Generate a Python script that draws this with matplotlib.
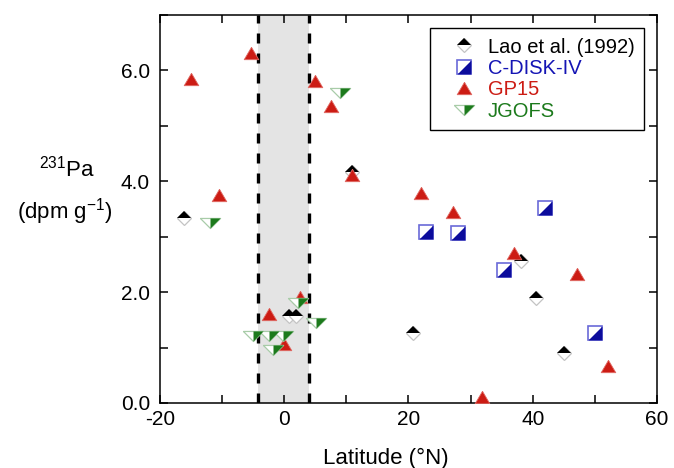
import numpy as np
import matplotlib
matplotlib.use("Agg")
import matplotlib.pyplot as plt
from matplotlib.lines import Line2D

plt.rcParams['font.family'] = ['Liberation Sans', 'DejaVu Sans']
plt.rcParams['mathtext.default'] = 'regular'

# ---- data ----
lao_lat = [-16.1, 0.85, 1.9, 11.0, 20.8, 38.1, 40.5, 45.0]
lao_pa = [3.33, 1.56, 1.56, 4.16, 1.27, 2.57, 1.89, 0.90]

cdisk_lat = [22.8, 27.9, 35.4, 41.9, 50.0]
cdisk_pa = [3.09, 3.06, 2.40, 3.52, 1.27]

gp15_lat = [-15.0, -10.45, -5.4, -2.5, 0.05, 2.5, 5.0, 7.5, 11.0,
            22.0, 27.1, 31.9, 37.0, 47.1, 52.1]
gp15_pa = [5.84, 3.76, 6.32, 1.60, 1.07, 1.92, 5.81, 5.35, 4.12,
           3.78, 3.44, 0.11, 2.71, 2.33, 0.66]

jgofs_lat = [-11.9, -5.0, -2.4, -1.8, -0.1, 2.3, 5.1, 9.0]
jgofs_pa = [3.25, 1.21, 1.21, 0.95, 1.21, 1.80, 1.45, 5.60]

band = (-4.2, 4.0)

# colours
c_blue = '#0c0c9c'
c_blue_edge = '#6a6ad8'
c_red = '#cc1c14'
c_green = '#1c7a1c'
c_green_edge = '#a8cca8'

# custom marker shapes
sq_half = [(-1, -1), (1, -1), (1, 1), (-1, -1)]
tri_up = [(0, 0.85), (-1, -0.85), (1, -0.85), (0, 0.85)]
vtri_full = [(-1, 0.5), (1, 0.5), (0, -0.5), (-1, 0.5)]
vtri_half = [(0, 0.5), (1, 0.5), (0, -0.5), (0, 0.5)]


def series_styles():
    # each series is made of overlaid layers (background, filled half)
    lao = [dict(marker='D', ms=7, mfc='white', mec='#c4c4c4', mew=0.9),
           dict(marker='D', ms=7, fillstyle='top', mfc='black',
                mfcalt='none', mec='none', mew=0)]
    cdisk = [dict(marker='s', ms=10, mfc='white', mec=c_blue_edge, mew=1.2),
             dict(marker=sq_half, ms=10, mfc=c_blue, mec='none', mew=0)]
    gp15 = [dict(marker=tri_up, ms=10.5, mfc=c_red, mec='#e06a64', mew=0.6)]
    jgofs = [dict(marker=vtri_full, ms=14.5, mfc='white', mec=c_green_edge, mew=0.9),
             dict(marker=vtri_half, ms=14.5, mfc=c_green, mec='none', mew=0)]
    return lao, cdisk, gp15, jgofs


fig = plt.figure(figsize=(6.74, 4.68), dpi=100)
ax = fig.add_axes([0.237, 0.139, 0.738, 0.829])

ax.axvspan(band[0], band[1], color='#e4e4e4', lw=0, zorder=0)
for xb in band:
    ax.axvline(xb, color='black', lw=2.4, linestyle=(0, (3, 3)), zorder=1)

lao_s, cdisk_s, gp15_s, jgofs_s = series_styles()
datasets = [
    (lao_lat, lao_pa, lao_s, 'Lao et al. (1992)', 'black'),
    (cdisk_lat, cdisk_pa, cdisk_s, 'C-DISK-IV', '#1414b4'),
    (gp15_lat, gp15_pa, gp15_s, 'GP15', c_red),
    (jgofs_lat, jgofs_pa, jgofs_s, 'JGOFS', c_green),
]

handles, labels, text_colors = [], [], []
z = 3
for lat, pa, styles, label, tc in datasets:
    layer = []
    for st in styles:
        st = dict(st)
        mfcalt = st.pop('mfcalt', None)
        ln, = ax.plot(lat, pa, linestyle='none', zorder=z, **st)
        proxy = Line2D([], [], linestyle='none', **st)
        if mfcalt is not None:
            ln.set_markerfacecoloralt(mfcalt)
            proxy.set_markerfacecoloralt(mfcalt)
        layer.append(proxy)
        z += 0.1
    z += 1
    handles.append(tuple(layer))
    labels.append(label)
    text_colors.append(tc)

ax.set_xlim(-20, 60)
ax.set_ylim(0, 7)
ax.set_xticks(np.arange(-20, 61, 10))
ax.set_xticklabels(['-20', '', '0', '', '20', '', '40', '', '60'])
ax.set_yticks(np.arange(0, 7.1, 1))
ax.set_yticklabels(['0.0', '', '2.0', '', '4.0', '', '6.0', ''])
ax.tick_params(direction='in', length=6, width=1.1, labelsize=15,
               top=True, right=True)
ax.tick_params(axis='y', pad=7)
ax.tick_params(axis='x', pad=5)
for sp in ax.spines.values():
    sp.set_linewidth(1.1)

fig.text(0.573, 0.008, 'Latitude (°N)', fontsize=16, ha='center', va='baseline')
fig.text(0.0994, 0.622, '$^{231}$Pa', fontsize=16, ha='center', va='baseline')
fig.text(0.0964, 0.534, '(dpm g$^{-1}$)', fontsize=16, ha='center', va='baseline')

leg = ax.legend(handles, labels, loc='upper right', bbox_to_anchor=(1, 1),
                borderaxespad=0.67, fontsize=14.5, frameon=True, fancybox=False,
                edgecolor='black', framealpha=1, numpoints=1,
                handlelength=2.4, handletextpad=0.0, borderpad=0.45,
                labelspacing=0.12)
leg.get_frame().set_linewidth(1.0)
for txt, tc in zip(leg.get_texts(), text_colors):
    txt.set_color(tc)

fig.savefig('out.png', dpi=100)
